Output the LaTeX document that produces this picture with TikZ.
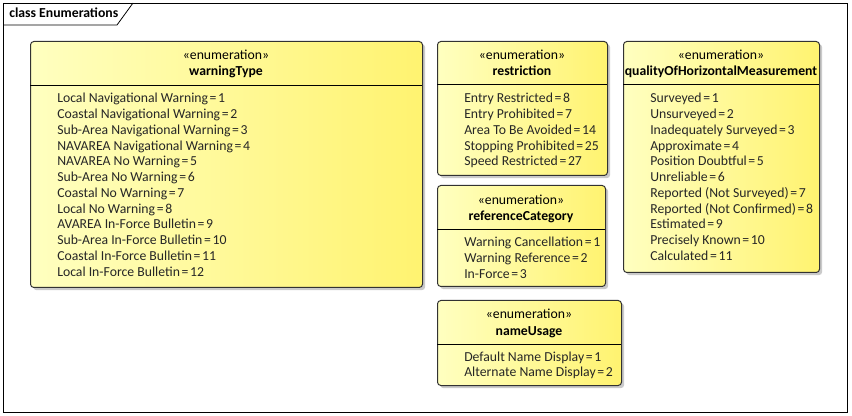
\documentclass[tikz,border=0pt]{standalone}
\usepackage{fontspec}
\setmainfont{Carlito}
\usetikzlibrary{shadows}
\definecolor{ylight}{RGB}{255,255,192}
\definecolor{ydark}{RGB}{255,243,112}
\definecolor{boxline}{RGB}{50,50,50}
\newcommand\eqs{\kern0.12em=\kern0.12em}
\tikzset{
  enumbox/.style={draw=boxline, line width=0.75pt, rounded corners=2.5pt,
    left color=ylight, right color=ydark, inner sep=0pt, anchor=north west,
    drop shadow={shadow xshift=2pt, shadow yshift=-2pt, fill=black!35, opacity=0.6}},
  sepline/.style={draw=black, line width=0.75pt},
  stereo/.style={inner sep=0pt, anchor=base, font=\fontsize{10.3}{12}\selectfont},
  ename/.style={inner sep=0pt, anchor=base, font=\fontsize{10.3}{12}\selectfont\bfseries},
  attr/.style={inner sep=0pt, anchor=base west, font=\fontsize{10.3}{12}\selectfont, text=black!85},
  frame/.style={draw=black, line width=0.6pt},
}
\begin{document}
\begin{tikzpicture}[x=0.75pt, y=-0.75pt]
\useasboundingbox (0,0) rectangle (852,416);
% frame
\draw[frame] (3,3) rectangle (847,412);
\draw[frame] (3,25) -- (117,25) -- (133,3);
\node[inner sep=0pt, anchor=base west, font=\fontsize{10.3}{12}\selectfont\bfseries] (title) at (9,18) {class Enumerations};

% warningType
\node[enumbox, minimum width=392*0.75pt, minimum height=246*0.75pt] (wt) at (30,41) {};
\draw[sepline] (30,86) -- (422,86);
\node[stereo] (wts) at (226,60) {«enumeration»};
\node[ename] (wtn) at (226,76) {warningType};
\foreach \t [count=\i] in {Local Navigational Warning\eqs 1, Coastal Navigational Warning\eqs 2, Sub-Area Navigational Warning\eqs 3, NAVAREA Navigational Warning\eqs 4, NAVAREA No Warning\eqs 5, Sub-Area No Warning\eqs 6, Coastal No Warning\eqs 7, Local No Warning\eqs 8, AVAREA In-Force Bulletin\eqs 9, Sub-Area In-Force Bulletin\eqs 10, Coastal In-Force Bulletin\eqs 11, Local In-Force Bulletin\eqs 12}
  \node[attr] (wt-\i) at (57,{103+(\i-1)*15.75}) {\t};

% restriction
\node[enumbox, minimum width=170*0.75pt, minimum height=134*0.75pt] (re) at (437,41) {};
\draw[sepline] (437,85) -- (607,85);
\node[stereo] (res) at (522,60) {«enumeration»};
\node[ename] (ren) at (522,76) {restriction};
\foreach \t [count=\i] in {Entry Restricted\eqs 8, Entry Prohibited\eqs 7, Area To Be Avoided\eqs 14, Stopping Prohibited\eqs 25, Speed Restricted\eqs 27}
  \node[attr] (re-\i) at (464,{103+(\i-1)*15.75}) {\t};

% referenceCategory
\node[enumbox, minimum width=168*0.75pt, minimum height=101*0.75pt] (rc) at (437,185) {};
\draw[sepline] (437,230) -- (605,230);
\node[stereo] (rcs) at (521,205) {«enumeration»};
\node[ename] (rcn) at (521,221) {referenceCategory};
\foreach \t [count=\i] in {Warning Cancellation\eqs 1, Warning Reference\eqs 2, In-Force\eqs 3}
  \node[attr] (rc-\i) at (464,{247+(\i-1)*15.75}) {\t};

% nameUsage
\node[enumbox, minimum width=184*0.75pt, minimum height=85*0.75pt] (nu) at (437,300) {};
\draw[sepline] (437,344) -- (621,344);
\node[stereo] (nus) at (529,319) {«enumeration»};
\node[ename] (nun) at (529,335) {nameUsage};
\foreach \t [count=\i] in {Default Name Display\eqs 1, Alternate Name Display\eqs 2}
  \node[attr] (nu-\i) at (464,{361+(\i-1)*15.75}) {\t};

% qualityOfHorizontalMeasurement
\node[enumbox, minimum width=196*0.75pt, minimum height=231*0.75pt] (qh) at (623,41) {};
\draw[sepline] (623,85) -- (819,85);
\node[stereo] (qhs) at (721,60) {«enumeration»};
\node[ename] (qhn) at (721,76) {qualityOfHorizontalMeasurement};
\foreach \t [count=\i] in {Surveyed\eqs 1, Unsurveyed\eqs 2, Inadequately Surveyed\eqs 3, Approximate\eqs 4, Position Doubtful\eqs 5, Unreliable\eqs 6, Reported (Not Surveyed)\eqs 7, Reported (Not Confirmed)\eqs 8, Estimated\eqs 9, Precisely Known\eqs 10, Calculated\eqs 11}
  \node[attr] (qh-\i) at (650,{103+(\i-1)*15.75}) {\t};
\end{tikzpicture}
\end{document}
